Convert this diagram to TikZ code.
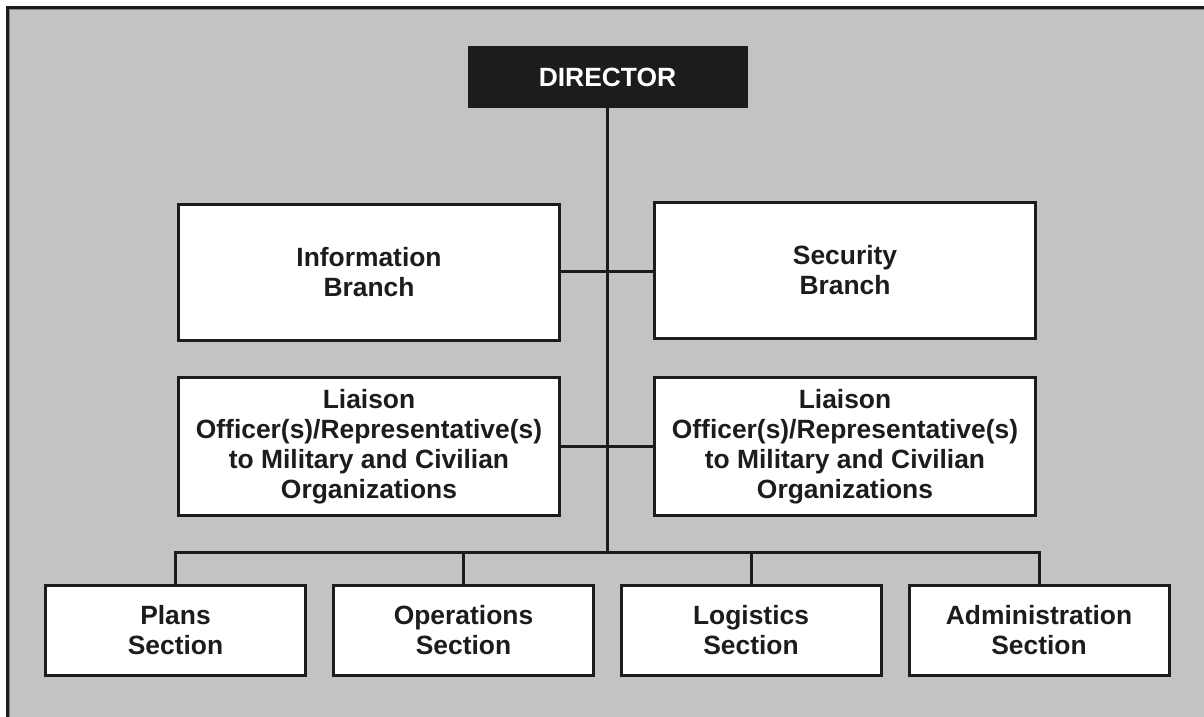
\documentclass[tikz,border=0pt]{standalone}
\usepackage{fontspec}
\setmainfont{Liberation Sans}
\definecolor{bggray}{RGB}{195,195,195}
\definecolor{ink}{RGB}{28,28,28}
\begin{document}
\begin{tikzpicture}[x=1pt,y=-1pt,
  box/.style={draw=ink,line width=3pt,fill=white,align=center,inner sep=0pt,
    font=\fontsize{26.4}{30}\selectfont\bfseries,text=ink},
  bigbox/.style={box,minimum width=381pt,minimum height=136pt},
  secbox/.style={box,minimum width=260pt,minimum height=90pt},
  link/.style={draw=ink,line width=3pt}]
\useasboundingbox (0,0) rectangle (1204,717);
\fill[white] (0,0) rectangle (1204,717);
\fill[bggray] (7.5,7.5) rectangle (1204,717);
\draw[ink,line width=3pt] (7.5,717) -- (7.5,7.5) -- (1204,7.5);
\draw[gray,line width=1pt] (9.5,717) -- (9.5,9.5) -- (1204,9.5);

\node[box,fill=ink,text=white,minimum width=277pt,minimum height=58pt] (dir) at (607.5,77) {DIRECTOR};
\node[bigbox] (info) at (369,272) {Information\\Branch};
\node[bigbox] (sec) at (845,270.5) {Security\\Branch};
\node[bigbox,minimum height=138pt] (liaL) at (369,446.5) {Liaison\\Officer(s)/Representative(s)\\to Military and Civilian\\Organizations};
\node[bigbox,minimum height=138pt] (liaR) at (845,446.5) {Liaison\\Officer(s)/Representative(s)\\to Military and Civilian\\Organizations};
\node[secbox] (plans) at (175.5,630.5) {Plans\\Section};
\node[secbox] (ops) at (463.5,630.5) {Operations\\Section};
\node[secbox] (log) at (751,630.5) {Logistics\\Section};
\node[secbox] (adm) at (1039,630.5) {Administration\\Section};

\coordinate (bus) at (607.5,552);
\draw[link] (info.east |- 0,271) -- (sec.west |- 0,271);
\draw[link] (liaL.east) -- (liaR.west);
\draw[link] (dir.south) -- (bus);
\draw[link] (plans.north) -- (plans.north |- bus) -- (adm.north |- bus) -- (adm.north);
\draw[link] (ops.north) -- (ops.north |- bus);
\draw[link] (log.north) -- (log.north |- bus);
\end{tikzpicture}
\end{document}
